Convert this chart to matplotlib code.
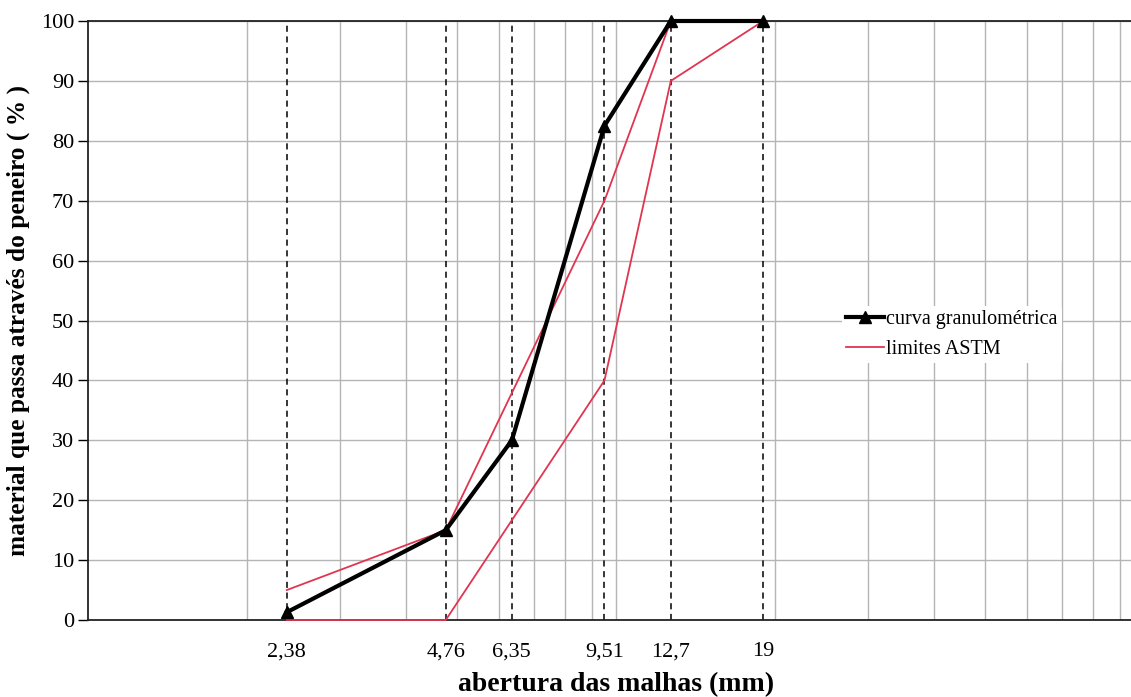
import matplotlib
matplotlib.use("Agg")
import matplotlib.pyplot as plt
from matplotlib.lines import Line2D

plt.rcParams['font.family'] = ['Liberation Serif', 'DejaVu Serif']

sieves = [2.38, 4.76, 6.35, 9.51, 12.7, 19]
sieve_labels = ["2,38", "4,76", "6,35", "9,51", "12,7", "19"]
curva = [1.3, 15, 30, 82.5, 100, 100]
astm_x = [2.38, 4.76, 9.51, 12.7, 19]
astm_lower = [0, 0, 40, 90, 100]
astm_upper = [5, 15, 70, 100, 100]
y_ticks = list(range(0, 101, 10))

fig = plt.figure(figsize=(11.31, 6.97), dpi=100)
ax = fig.add_axes([88/1131, 1-620/697, (1144-88)/1131, (620-21)/697])
ax.set_xscale('log')
ax.set_xlim(1, 100)
ax.set_ylim(0, 100)

# grid
grid_x = [v * d for d in (1, 10) for v in range(2, 10)] + [10]
for gx in grid_x:
    ax.axvline(gx, color='#b5b5b5', lw=1.0, zorder=0)
for gy in y_ticks[1:]:
    ax.axhline(gy, color='#b5b5b5', lw=1.0, zorder=0)

for sx in sieves:
    ax.plot([sx, sx], [0, 100], color='black', lw=1.1, ls=(0, (4, 3)), zorder=1)

ax.plot(astm_x, astm_lower, color='#e0354f', lw=1.3, zorder=4, clip_on=False)
ax.plot(astm_x, astm_upper, color='#e0354f', lw=1.3, zorder=2, clip_on=False)
ax.plot(sieves, curva, color='black', lw=3, marker='^', ms=9, zorder=5, clip_on=False)

ax.set_xticks(sieves)
ax.set_xticklabels(sieve_labels)
ax.xaxis.set_minor_locator(matplotlib.ticker.NullLocator())
ax.tick_params(axis='x', length=0, pad=16, labelsize=16)
ax.set_yticks(y_ticks)
ax.tick_params(axis='y', direction='out', length=7, width=1, labelsize=16, pad=3)

for s in ['left', 'bottom', 'top']:
    ax.spines[s].set_color('#222222')
    ax.spines[s].set_linewidth(1.3)
    ax.spines[s].set_zorder(3)
ax.spines['right'].set_visible(False)

ax.set_xlabel('abertura das malhas (mm)', fontsize=20, fontweight='bold', labelpad=8)
ax.set_ylabel('material que passa através do peneiro ( % )', fontsize=18.3, fontweight='bold', labelpad=8)

handles = [Line2D([], [], color='black', lw=3, marker='^', ms=8),
           Line2D([], [], color='#e0354f', lw=1.3)]
leg = ax.legend(handles, ['curva granulométrica', 'limites ASTM'],
                loc='upper left', bbox_to_anchor=(0.714, 0.525),
                frameon=True, fontsize=14.5, handlelength=1.9, handletextpad=0.1,
                borderpad=0.2, labelspacing=0.55, borderaxespad=0)
leg.get_frame().set_edgecolor('none')
leg.get_frame().set_facecolor('white')
leg.get_frame().set_alpha(1)

fig.savefig('out.png', dpi=100)
